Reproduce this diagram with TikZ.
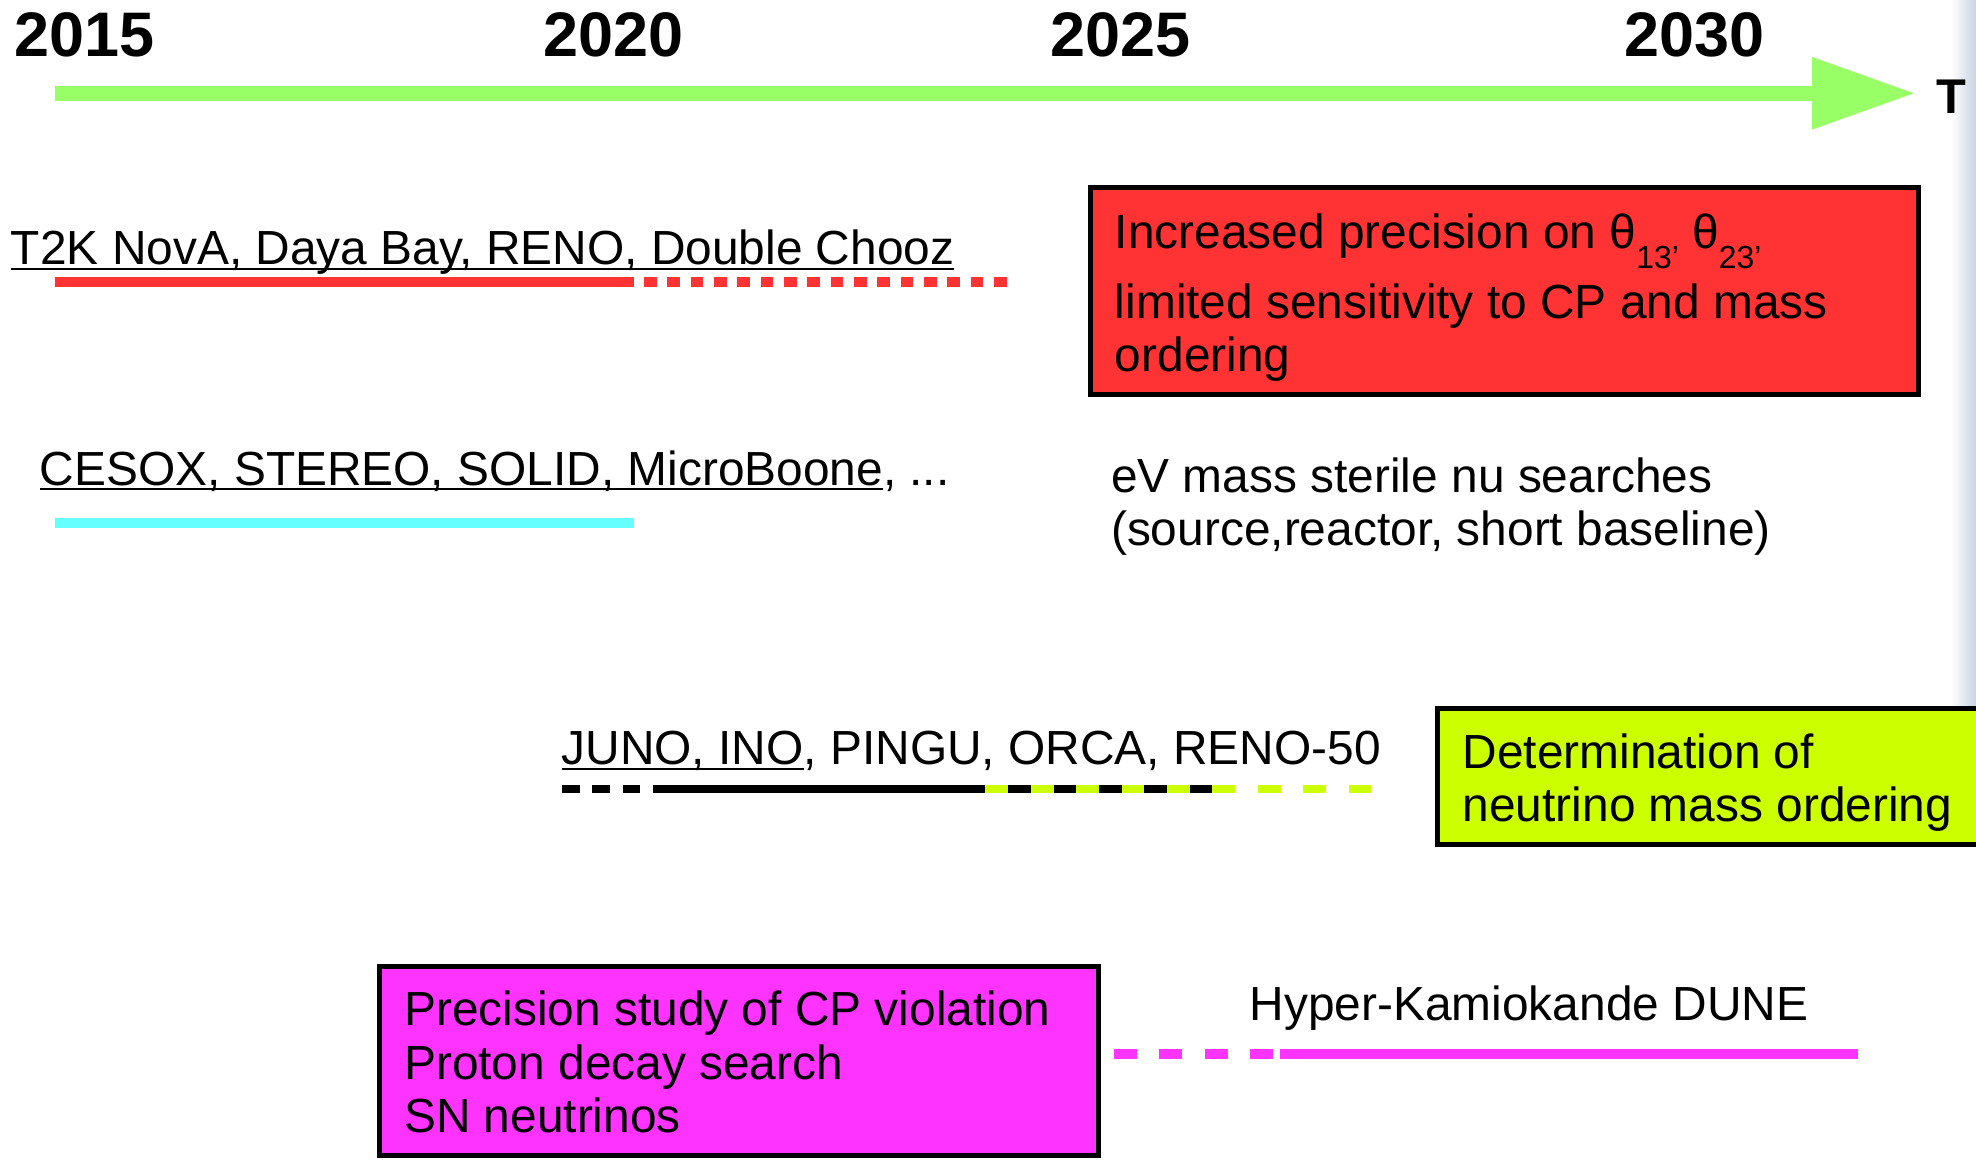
\documentclass[tikz,border=0pt]{standalone}
\usepackage{fontspec}
\setmainfont{Liberation Sans}
\usetikzlibrary{arrows.meta}

\definecolor{axisgreen}{HTML}{99FF66}
\definecolor{barred}{HTML}{FF3333}
\definecolor{barcyan}{HTML}{66FFFF}
\definecolor{barlime}{HTML}{CCFF00}
\definecolor{barmagenta}{HTML}{FF33FF}
\definecolor{edgeblue}{HTML}{C9D3E3}

\newsavebox{\ulbox}
\newcommand{\ulin}[1]{\sbox{\ulbox}{#1}\rlap{\rule[-0.11em]{\wd\ulbox}{0.05em}}\usebox{\ulbox}}
\newcommand{\lowsub}[1]{\raisebox{-0.42em}{\fontsize{7.2}{8}\selectfont #1}}

\begin{document}
\begin{tikzpicture}[x=0.01cm, y=-0.01cm,
    year/.style={font=\fontsize{14.2}{16}\bfseries\selectfont, inner sep=0pt, anchor=base},
    txt/.style={font=\fontsize{10.8}{12.1}\selectfont, inner sep=0pt, anchor=base west, align=left},
    bar/.style={line width=0.08cm},
    goalbox/.style={draw=black, line width=0.04cm}]
        \useasboundingbox (0,0) rectangle (1568,920);
        \clip (0,0) rectangle (1568,920);

        % screen edge
        \shade[left color=white, right color=edgeblue] (1548,0) rectangle (1568,560);

        % time axis
        \node[year] (y2015) at (67,45) {2015};
        \node[year] (y2020) at (487,45) {2020};
        \node[year] (y2025) at (889,45) {2025};
        \node[year] (y2030) at (1345,45) {2030};
        \node[year, anchor=base west, font=\fontsize{11}{13}\bfseries\selectfont] (tlabel) at (1536,90) {T};
        \coordinate (t0) at (44,74);
        \coordinate (t1) at (1520,74);
        \draw[axisgreen, line width=0.12cm, -{Triangle[length=0.82cm, width=0.54cm]}] (t0) -- (t1);

        % reactor and long baseline
        \node[txt] (t2k) at (8,210) {\ulin{T2K NovA, Daya Bay, RENO, Double Chooz}};
        \draw[bar, barred] (44,224) -- (503,224);
        \draw[bar, barred, dash pattern=on 0.1cm off 0.085cm] (511,224) -- (800,224);
        \draw[goalbox, fill=barred] (865,149) rectangle (1522,313);
        % base of a multi-line node is its last line
        \node[txt] (precision) at (884,295) {Increased precision on θ\lowsub{13’} θ\lowsub{23’}\\[0.08cm]
            limited sensitivity to CP and mass\\ordering};

        % sterile searches
        \node[txt] (cesox) at (31,385) {\ulin{CESOX, STEREO, SOLID, MicroBoone}, ...};
        \draw[bar, barcyan] (44,415) -- (503,415);
        \node[txt] (sterile) at (881,433) {eV mass sterile nu searches\\(source,reactor, short baseline)};

        % mass ordering
        \node[txt] (juno) at (445,607) {\ulin{JUNO, INO}, PINGU, ORCA, RENO-50};
        \draw[line width=0.06cm, dash pattern=on 0.14cm off 0.1cm] (446,626) -- (516,626);
        \draw[line width=0.06cm] (518,626) -- (962,626);
        \draw[line width=0.06cm, barlime, dash pattern=on 0.18cm off 0.18cm] (782,626) -- (1088,626);
        \draw[goalbox, fill=barlime] (1141,562) rectangle (1590,670);
        \node[txt] (ordering) at (1160,652) {Determination of\\neutrino mass ordering};

        % next generation
        \draw[goalbox, fill=barmagenta] (301,767) rectangle (872,917);
        \node[txt] (cpv) at (320,899) {Precision study of CP violation\\Proton decay search\\SN neutrinos};
        \node[txt] (hyperk) at (991,810) {Hyper-Kamiokande DUNE};
        \draw[bar, barmagenta, dash pattern=on 0.18cm off 0.18cm] (884,836) -- (1016,836);
        \draw[bar, barmagenta] (1016,836) -- (1474,836);

    \end{tikzpicture}
\end{document}
